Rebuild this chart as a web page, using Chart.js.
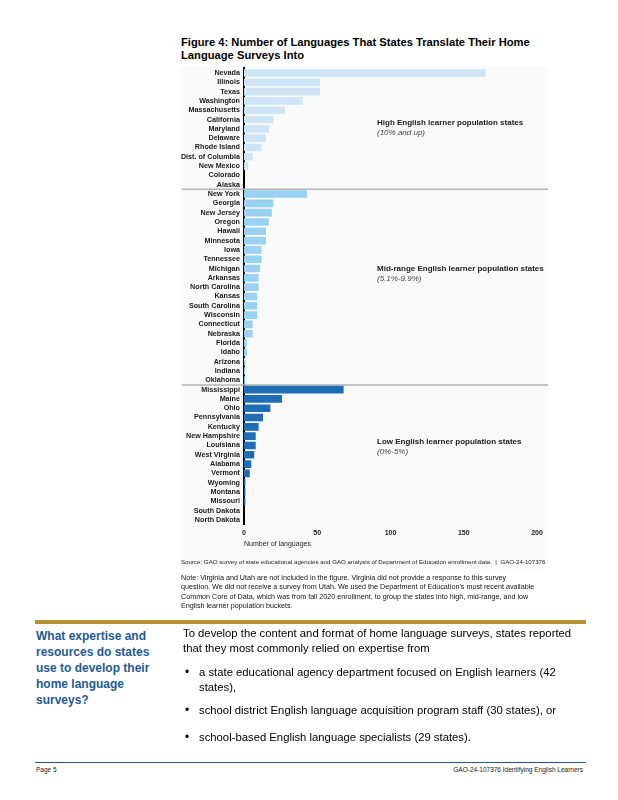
<!DOCTYPE html>
<html><head><meta charset="utf-8">
<script src="https://cdn.jsdelivr.net/npm/chart.js@4.4.0/dist/chart.umd.min.js"></script>
<style>
body{margin:0;width:618px;height:800px;background:#fff;position:relative;font-family:'Liberation Sans',Arial,sans-serif;overflow:hidden;color:#000}
.abs{position:absolute;white-space:nowrap}
</style></head><body>
<div class="abs" style="left:181px;top:36px;font-weight:bold;font-size:11.2px;line-height:13px;">Figure 4: Number of Languages That States Translate Their Home<br>Language Surveys Into</div>
<div class="abs" style="left:180px;top:66px;width:368px;height:503px;background:#fafafa"></div>
<div class="abs" style="left:180px;top:60px;width:370px;height:500px"><canvas id="c" width="370" height="500"></canvas></div>
<div class="abs" style="left:181px;top:558px;font-size:6.15px;line-height:7px;color:#222">Source: GAO survey of state educational agencies and GAO analysis of Department of Education enrollment data. &nbsp;|&nbsp; GAO-24-107376</div>
<div class="abs" style="left:181px;top:573.5px;font-size:7.18px;line-height:9.6px;color:#111">Note: Virginia and Utah are not included in the figure. Virginia did not provide a response to this survey<br>question. We did not receive a survey from Utah. We used the Department of Education’s most recent available<br>Common Core of Data, which was from fall 2020 enrollment, to group the states into high, mid-range, and low<br>English learner population buckets.</div>
<div class="abs" style="left:35px;top:620px;width:551px;height:4px;background:#b5932f"></div>
<div class="abs" style="left:36px;top:628px;font-weight:bold;font-size:12px;line-height:16px;color:#1f5a96">What expertise and<br>resources do states<br>use to develop their<br>home language<br>surveys?</div>
<div class="abs" style="left:183px;top:626px;font-size:11.3px;line-height:15px;">To develop the content and format of home language surveys, states reported<br>that they most commonly relied on expertise from</div>
<div class="abs" style="left:185px;top:665px;font-size:12px;line-height:15px;">•</div>
<div class="abs" style="left:199px;top:665px;font-size:11.3px;line-height:15px;">a state educational agency department focused on English learners (42<br>states),</div>
<div class="abs" style="left:185px;top:703px;font-size:12px;line-height:15px;">•</div>
<div class="abs" style="left:199px;top:703px;font-size:11.3px;line-height:15px;">school district English language acquisition program staff (30 states), or</div>
<div class="abs" style="left:185px;top:730px;font-size:12px;line-height:15px;">•</div>
<div class="abs" style="left:199px;top:730px;font-size:11.3px;line-height:15px;">school-based English language specialists (29 states).</div>
<div class="abs" style="left:35px;top:762px;width:551px;height:1px;background:#1f5a96"></div>
<div class="abs" style="left:36px;top:766px;font-size:6.5px;line-height:8px;color:#222">Page 5</div>
<div class="abs" style="right:35px;top:766px;font-size:6.5px;line-height:8px;color:#222">GAO-24-107376 Identifying English Learners</div>
<script>
const highStates = ["Nevada","Illinois","Texas","Washington","Massachusetts","California","Maryland","Delaware","Rhode Island","Dist. of Columbia","New Mexico","Colorado","Alaska"];
const highValues = [165,52,52,40,28,20,17,15,12,6,3,0,0];
const midStates = ["New York","Georgia","New Jersey","Oregon","Hawaii","Minnesota","Iowa","Tennessee","Michigan","Arkansas","North Carolina","Kansas","South Carolina","Wisconsin","Connecticut","Nebraska","Florida","Idaho","Arizona","Indiana","Oklahoma"];
const midValues = [43,20,19,17,15,15,12,12,11,10,10,9,9,9,6,6,2,2,1,1,1];
const lowStates = ["Mississippi","Maine","Ohio","Pennsylvania","Kentucky","New Hampshire","Louisiana","West Virginia","Alabama","Vermont","Wyoming","Montana","Missouri","South Dakota","North Dakota"];
const lowValues = [68,26,18,13,10,8,8,7,5,4,1,1,1,0,0];
const xTicks = [0,50,100,150,200];
const groupTitles = ["High English learner population states","Mid-range English learner population states","Low English learner population states"];
const groupRanges = ["(10% and up)","(5.1%-9.9%)","(0%-5%)"];

const labels = highStates.concat(midStates, lowStates);
const toPts = (s, v) => s.map((n, i) => ({y: n, x: v[i]}));

const sepPlugin = {
  id: 'seps',
  beforeDatasetsDraw(chart) {
    const y = chart.scales.y, ctx = chart.ctx;
    const b1 = highStates.length, b2 = highStates.length + midStates.length;
    ctx.save();
    ctx.strokeStyle = '#b3b3b3';
    ctx.lineWidth = 1.5;
    [b1, b2].forEach(b => {
      const py = (y.getPixelForValue(b - 1) + y.getPixelForValue(b)) / 2;
      ctx.beginPath(); ctx.moveTo(2, py); ctx.lineTo(368, py); ctx.stroke();
    });
    ctx.restore();
  },
  afterDraw(chart) {
    const y = chart.scales.y, ctx = chart.ctx, a = chart.chartArea;
    const anchors = [5.4, highStates.length + 8, highStates.length + midStates.length + 5.6];
    ctx.save();
    ctx.textBaseline = 'middle';
    ctx.textAlign = 'left';
    anchors.forEach((v, i) => {
      const py = y.getPixelForValue(v);
      ctx.fillStyle = '#1a1a1a';
      ctx.font = "bold 8px 'Liberation Sans', Arial, sans-serif";
      ctx.fillText(groupTitles[i], a.left + 133, py);
      ctx.fillStyle = '#444';
      ctx.font = "italic 8px 'Liberation Sans', Arial, sans-serif";
      ctx.fillText(groupRanges[i], a.left + 133, py + 10);
    });
    ctx.restore();
  }
};

const common = {grouped: false, barPercentage: 0.82, categoryPercentage: 1, borderWidth: 0};
new Chart(document.getElementById('c'), {
  type: 'bar',
  data: {
    labels: labels,
    datasets: [
      Object.assign({label: 'High', data: toPts(highStates, highValues), backgroundColor: '#cde5f6'}, common),
      Object.assign({label: 'Mid', data: toPts(midStates, midValues), backgroundColor: '#98d2f0'}, common),
      Object.assign({label: 'Low', data: toPts(lowStates, lowValues), backgroundColor: '#1e6db6'}, common)
    ]
  },
  options: {
    indexAxis: 'y',
    responsive: false,
    animation: false,
    layout: {padding: {top: 7.3, right: 13, left: 0, bottom: 0}},
    plugins: {legend: {display: false}, tooltip: {enabled: false}},
    scales: {
      y: {
        type: 'category',
        offset: true,
        grid: {display: false, drawTicks: false},
        border: {display: true, color: '#000', width: 2},
        ticks: {autoSkip: false, padding: 4, color: '#1a1a1a', font: {family: "'Liberation Sans', Arial, sans-serif", size: 7.2, weight: 'bold'}},
        afterFit(s) { s.width = 64; }
      },
      x: {
        min: 0, max: 200,
        afterBuildTicks(s) { s.ticks = xTicks.map(v => ({value: v})); },
        grid: {display: false, drawTicks: false},
        border: {display: false},
        ticks: {padding: 4, color: '#1a1a1a', font: {family: "'Liberation Sans', Arial, sans-serif", size: 7, weight: 'bold'}},
        title: {display: true, text: 'Number of languages', align: 'start', color: '#222', padding: {top: 0, bottom: 12}, font: {family: "'Liberation Sans', Arial, sans-serif", size: 7}},
        afterFit(s) { s.height = 35.4; }
      }
    }
  },
  plugins: [sepPlugin]
});
</script>
</body></html>
